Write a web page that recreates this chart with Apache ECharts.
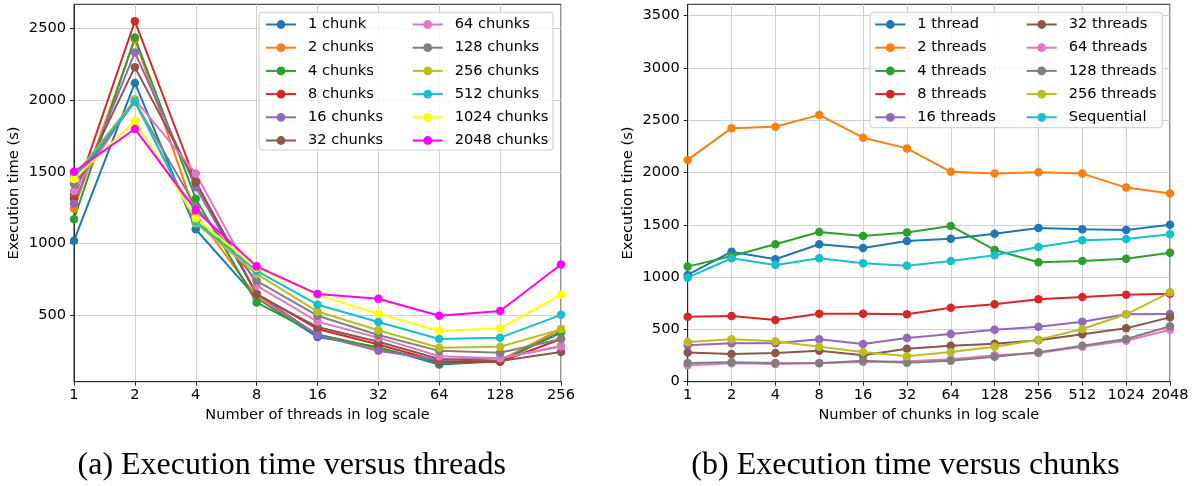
<!DOCTYPE html>
<html>
<head>
<meta charset="utf-8">
<script src="https://cdn.jsdelivr.net/npm/echarts@6/dist/echarts.min.js"></script>
<style>
  html, body { margin: 0; padding: 0; background: #ffffff; }
  #chart { width: 1196px; height: 486px; }
</style>
</head>
<body>
<div id="chart"></div>
<script>
// Axis categories (log2-spaced, drawn evenly)
const threadLabels = ['1', '2', '4', '8', '16', '32', '64', '128', '256'];
const chunkLabels = ['1', '2', '4', '8', '16', '32', '64', '128', '256', '512', '1024', '2048'];

// Y tick values
const leftTicks = [500, 1000, 1500, 2000, 2500];
const rightTicks = [0, 500, 1000, 1500, 2000, 2500, 3000, 3500];

// Execution time (s) per thread count, one value per chunk count (1 .. 2048)
const thread1   = [1020, 1243, 1170, 1313, 1278, 1345, 1367, 1415, 1469, 1457, 1450, 1501];
const thread2   = [2120, 2423, 2436, 2550, 2332, 2230, 2006, 1989, 2002, 1989, 1855, 1799];
const thread4   = [1100, 1202, 1313, 1431, 1393, 1425, 1489, 1259, 1141, 1154, 1176, 1233];
const thread8   = [621, 628, 590, 650, 650, 644, 707, 740, 788, 810, 832, 841];
const thread16  = [348, 367, 367, 405, 360, 418, 456, 497, 526, 574, 644, 648];
const thread32  = [278, 265, 274, 296, 252, 316, 344, 363, 396, 453, 510, 615];
const thread64  = [157, 176, 169, 178, 188, 195, 214, 252, 274, 335, 392, 497];
const thread128 = [179, 185, 179, 176, 201, 182, 201, 239, 281, 344, 408, 530];
const thread256 = [380, 405, 386, 335, 284, 244, 284, 335, 402, 503, 644, 854];
const sequential = [994, 1180, 1116, 1180, 1132, 1109, 1154, 1208, 1288, 1352, 1364, 1409];

const threadRows = [thread1, thread2, thread4, thread8, thread16, thread32, thread64, thread128, thread256];

const chunkNames = ['1 chunk', '2 chunks', '4 chunks', '8 chunks', '16 chunks', '32 chunks',
  '64 chunks', '128 chunks', '256 chunks', '512 chunks', '1024 chunks', '2048 chunks'];
const threadNames = ['1 thread', '2 threads', '4 threads', '8 threads', '16 threads',
  '32 threads', '64 threads', '128 threads', '256 threads'];

const palette = ['#1f77b4', '#ff7f0e', '#2ca02c', '#d62728', '#9467bd', '#8c564b',
  '#e377c2', '#7f7f7f', '#bcbd22', '#17becf', '#ffff00', '#ff00ff'];

const FONT = 'DejaVu Sans';
const TICK_FS = 14.6;
const AXIS_COLOR = '#262626';
const GRID_COLOR = '#d0d0d0';

function lineSeries(name, data, color, gridIdx) {
  return {
    type: 'line',
    name: name,
    xAxisIndex: gridIdx,
    yAxisIndex: gridIdx,
    data: data,
    symbol: 'circle',
    symbolSize: 8.5,
    showAllSymbol: true,
    animation: false,
    itemStyle: { color: color },
    lineStyle: { color: color, width: 2 },
    emphasis: { disabled: true }
  };
}

const series = [];
// (a) one line per chunk count, plotted against threads
chunkNames.forEach((name, j) => {
  series.push(lineSeries(name, threadRows.map(row => row[j]), palette[j], 0));
});
// (b) one line per thread count, plotted against chunks
threadNames.forEach((name, i) => {
  series.push(lineSeries(name, threadRows[i], palette[i], 1));
});
series.push(lineSeries('Sequential', sequential, palette[9], 1));

function xAxis(gridIdx, labels, title) {
  return {
    type: 'category',
    gridIndex: gridIdx,
    data: labels,
    boundaryGap: false,
    axisLine: { show: true, lineStyle: { color: AXIS_COLOR, width: 1 } },
    axisTick: { show: true, length: 4, lineStyle: { color: AXIS_COLOR } },
    axisLabel: { interval: 0, fontFamily: FONT, fontSize: TICK_FS, color: '#000', margin: 6 },
    splitLine: { show: true, lineStyle: { color: GRID_COLOR, width: 1 } },
    name: title,
    nameLocation: 'middle',
    nameGap: 26,
    nameTextStyle: { fontFamily: FONT, fontSize: TICK_FS, color: '#000' }
  };
}

function yAxis(gridIdx, min, max, ticks) {
  return {
    type: 'value',
    gridIndex: gridIdx,
    min: min,
    max: max,
    axisLine: { show: true, lineStyle: { color: AXIS_COLOR, width: 1 } },
    axisTick: { show: true, length: 4, customValues: ticks, lineStyle: { color: AXIS_COLOR } },
    axisLabel: { customValues: ticks, formatter: v => String(v), fontFamily: FONT, fontSize: TICK_FS, color: '#000', margin: 8 },
    splitLine: { show: true, lineStyle: { color: GRID_COLOR, width: 1 } },
    name: 'Execution time (s)',
    nameLocation: 'middle',
    nameGap: 52,
    nameTextStyle: { fontFamily: FONT, fontSize: TICK_FS, color: '#000' }
  };
}

function legend(left, names) {
  return {
    show: true,
    orient: 'vertical',
    left: left,
    top: 17,
    padding: 0,
    itemWidth: 30,
    itemHeight: 11,
    itemGap: 8.2,
    selectedMode: false,
    data: names,
    textStyle: { fontFamily: FONT, fontSize: TICK_FS, color: '#000', lineHeight: 14, padding: [0, 0, 0, 7] }
  };
}

const option = {
  animation: false,
  backgroundColor: '#ffffff',
  grid: [
    { left: 74, top: 4.3, width: 487, height: 377.4, show: true, borderColor: AXIS_COLOR, borderWidth: 1, containLabel: false },
    { left: 687.7, top: 4.3, width: 482.3, height: 377.4, show: true, borderColor: AXIS_COLOR, borderWidth: 1, containLabel: false }
  ],
  xAxis: [
    xAxis(0, threadLabels, 'Number of threads in log scale'),
    xAxis(1, chunkLabels, 'Number of chunks in log scale')
  ],
  yAxis: [
    yAxis(0, 37, 2668, leftTicks),
    yAxis(1, 0, 3607, rightTicks)
  ],
  legend: [
    legend(265, chunkNames.slice(0, 6)),
    legend(411.7, chunkNames.slice(6)),
    legend(874.3, threadNames.slice(0, 5)),
    legend(1025.7, threadNames.slice(5).concat(['Sequential']))
  ],
  graphic: [
    { type: 'rect', z: 3, shape: { x: 259, y: 12.3, width: 294, height: 137.7, r: 3 },
      style: { fill: 'rgba(255,255,255,0.8)', stroke: '#cccccc', lineWidth: 1 } },
    { type: 'rect', z: 3, shape: { x: 870, y: 12.3, width: 292.3, height: 115.4, r: 3 },
      style: { fill: 'rgba(255,255,255,0.8)', stroke: '#cccccc', lineWidth: 1 } },
    { type: 'text', x: 291.7, y: 466, style: { text: '(a) Execution time versus threads',
      fontFamily: 'Liberation Serif', fontSize: 32, fill: '#000', align: 'center', verticalAlign: 'middle' } },
    { type: 'text', x: 905.5, y: 466, style: { text: '(b) Execution time versus chunks',
      fontFamily: 'Liberation Serif', fontSize: 32, fill: '#000', align: 'center', verticalAlign: 'middle' } }
  ],
  series: series
};

const chart = echarts.init(document.getElementById('chart'), null, { renderer: 'canvas' });
chart.setOption(option);
</script>
</body>
</html>
